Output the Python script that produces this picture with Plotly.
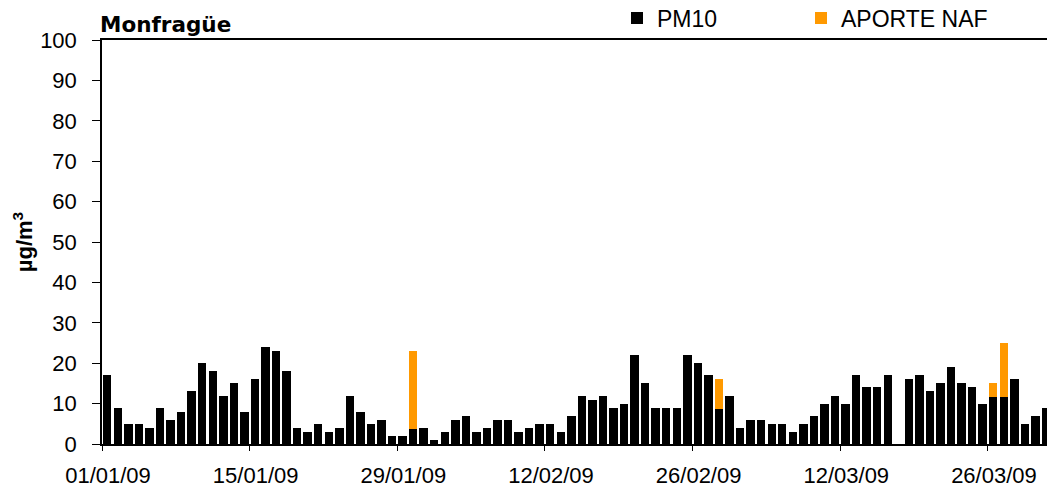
import pandas as pd
import plotly.graph_objects as go

# Daily dates 01/01/09 .. 31/03/09
dates = pd.date_range("2009-01-01", "2009-03-31", freq="D")

# PM10 (black part of the bar), µg/m3
pm10 = [17, 9, 5, 5, 4, 9, 6, 8, 13, 20,
        18, 12, 15, 8, 16, 24, 23, 18, 4, 3,
        5, 3, 4, 12, 8, 5, 6, 2, 2, 3.7,
        4, 1, 3, 6, 7, 3, 4, 6, 6, 3,
        4, 5, 5, 3, 7, 12, 11, 12, 9, 10,
        22, 15, 9, 9, 9, 22, 20, 17, 8.7, 12,
        4, 6, 6, 5, 5, 3, 5, 7, 10, 12,
        10, 17, 14, 14, 17, None, 16, 17, 13, 15,
        19, 15, 14, 10, 11.6, 11.6, 16, 5, 7, 9]

# Natural (African dust) contribution stacked on top (orange)
naf = [0] * 90
naf[29] = 19.3
naf[58] = 7.4
naf[84] = 3.4
naf[85] = 13.4

tick_labels = ["01/01/09", "15/01/09", "29/01/09", "12/02/09",
               "26/02/09", "12/03/09", "26/03/09"]
tick_dates = ["2009-01-01", "2009-01-15", "2009-01-29", "2009-02-12",
              "2009-02-26", "2009-03-12", "2009-03-26"]

DAY = 86400000
FONT = "Liberation Sans, Arial, sans-serif"
W, H = 1047, 488

fig = go.Figure()
fig.add_bar(x=dates, y=pm10, name="PM10", marker_color="#000000",
            marker_line_width=0, width=0.8 * DAY,
            xperiod=DAY, xperiodalignment="middle", legend="legend")
fig.add_bar(x=dates, y=naf, name="APORTE NAF", marker_color="#FF9900",
            marker_line_width=0, width=0.8 * DAY,
            xperiod=DAY, xperiodalignment="middle", legend="legend2")

leg_common = dict(orientation="h", xref="container", yref="container",
                  xanchor="left", yanchor="middle", visible=True,
                  font=dict(family=FONT, size=23, color="#000000"),
                  bgcolor="rgba(0,0,0,0)")

fig.update_layout(
    width=W, height=H,
    margin=dict(l=102, r=0, t=40, b=44, autoexpand=False),
    barmode="stack",
    showlegend=True,
    plot_bgcolor="white", paper_bgcolor="white",
    font=dict(family=FONT, size=22, color="#000000"),
    title=dict(text="<b>Monfragüe</b>", xref="container", yref="container",
               x=100 / W, xanchor="left", y=1 - 24.5 / H, yanchor="middle",
               font=dict(family="DejaVu Sans, sans-serif", size=21.5, color="#000000")),
    legend=dict(x=617 / W, y=1 - 18 / H, **leg_common),
    legend2=dict(x=801 / W, y=1 - 18 / H, **leg_common),
    bargap=0,
)

fig.update_xaxes(
    type="date", automargin=False,
    range=["2009-01-01", "2009-03-31 14:24"],
    tickvals=tick_dates, ticktext=tick_labels,
    ticks="outside", ticklen=5, tickwidth=1, tickcolor="#000000",
    ticklabelshift=6, ticklabelstandoff=6,
    showline=True, linecolor="#000000", linewidth=1.5,
    mirror=True, showgrid=False, zeroline=False,
)
fig.update_yaxes(
    automargin=False,
    range=[0, 100], dtick=10, tick0=0,
    ticks="outside", ticklen=8, tickwidth=1, tickcolor="#000000",
    ticklabelstandoff=11,
    showline=True, linecolor="#000000", linewidth=1.5,
    showgrid=False, zeroline=False,
    title=dict(text="<b>µg/m<sup>3</sup></b>", standoff=1,
               font=dict(family=FONT, size=22, color="#000000")),
)

# remove the default 8 px page margin so the figure fills the window exactly
fig.write_html("out.html",
               config={"displayModeBar": False},
               post_script="document.body.style.margin='0';"
                           "document.body.style.overflow='hidden';")
